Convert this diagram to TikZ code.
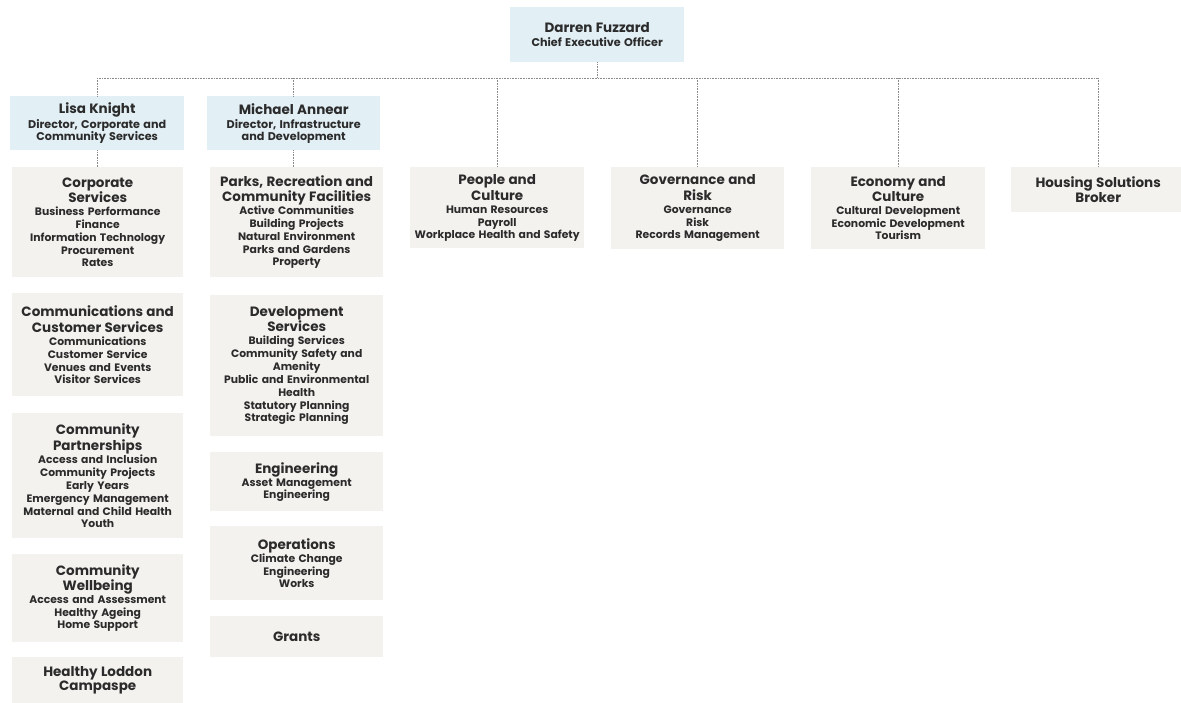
\documentclass[tikz,border=0pt]{standalone}
\usepackage{fontspec}
\setmainfont{Poppins}
\definecolor{bluebox}{HTML}{E2EFF5}
\definecolor{greybox}{HTML}{F4F2EF}
\definecolor{txt}{HTML}{2B2B2B}
\definecolor{lin}{HTML}{8A8A8A}
\newcommand\hf{\fontsize{13.5}{15.5}\selectfont\bfseries}
\newcommand\itf{\fontsize{10.8}{13}\selectfont\bfseries}
\newcommand\df{\fontsize{11.2}{12.3}\selectfont\bfseries}
\begin{document}
\begin{tikzpicture}[x=1pt,y=-1pt,
  box/.style={anchor=north west, inner xsep=1pt, inner ysep=0pt, align=center, text=txt},
  unit/.style={box, fill=greybox},
  lead/.style={box, fill=bluebox},
  conn/.style={draw=lin, line width=0.6pt, densely dotted}]
\useasboundingbox (0,0) rectangle (1181,702);

% CEO and directors
\node[lead, text width=172, minimum height=55] (ceo) at (510,7)
  {{\hf Darren Fuzzard\par}\vspace{2.5pt}{\df Chief Executive Officer}};
\node[lead, text width=172, minimum height=54] (lisa) at (10,96)
  {{\hf Lisa Knight\par}\vspace{1.5pt}{\df Director, Corporate and\\Community Services}};
\node[lead, text width=171, minimum height=54] (michael) at (207,96)
  {{\hf Michael Annear\par}\vspace{1.5pt}{\df Director, Infrastructure\\and Development}};

% column 1
\node[unit, text width=169, minimum height=110] (cs) at (12,167)
  {{\hf Corporate\\Services\par}{\itf Business Performance\\Finance\\Information Technology\\Procurement\\Rates}};
\node[unit, text width=169, minimum height=103] (ccs) at (12,293)
  {{\hf Communications and\\Customer Services\par}{\itf Communications\\Customer Service\\Venues and Events\\Visitor Services}};
\node[unit, text width=169, minimum height=125] (cp) at (12,413)
  {{\hf Community\\Partnerships\par}{\itf Access and Inclusion\\Community Projects\\Early Years\\Emergency Management\\Maternal and Child Health\\Youth}};
\node[unit, text width=169, minimum height=88] (cw) at (12,554)
  {{\hf Community\\Wellbeing\par}{\itf Access and Assessment\\Healthy Ageing\\Home Support}};
\node[unit, text width=169, minimum height=46] (hlc) at (12,657)
  {{\hf Healthy Loddon\\Campaspe}};

% column 2
\node[unit, text width=171, minimum height=110] (prcf) at (210,167)
  {{\hf Parks, Recreation and\\Community Facilities\par}{\itf Active Communities\\Building Projects\\Natural Environment\\Parks and Gardens\\Property}};
\node[unit, text width=171, minimum height=141] (ds) at (210,295)
  {{\hf Development\\Services\par}{\itf Building Services\\Community Safety and\\Amenity\\Public and Environmental\\Health\\Statutory Planning\\Strategic Planning}};
\node[unit, text width=171, minimum height=59] (eng) at (210,452)
  {{\hf Engineering\par}{\itf Asset Management\\Engineering}};
\node[unit, text width=171, minimum height=74] (ops) at (210,526)
  {{\hf Operations\par}{\itf Climate Change\\Engineering\\Works}};
\node[unit, text width=171, minimum height=41] (grants) at (210,616)
  {{\hf Grants}};

% top row
\node[unit, text width=172, minimum height=81] (pc) at (410,167)
  {{\hf People and\\Culture\par}{\itf Human Resources\\Payroll\\Workplace Health and Safety}};
\node[unit, text width=171, minimum height=82] (gr) at (611,167)
  {{\hf Governance and\\Risk\par}{\itf Governance\\Risk\\Records Management}};
\node[unit, text width=172, minimum height=82] (ec) at (811,167)
  {{\hf Economy and\\Culture\par}{\itf Cultural Development\\Economic Development\\Tourism}};
\node[unit, text width=172, minimum height=45] (hsb) at (1011,167)
  {{\hf Housing Solutions\\Broker}};

% connectors
\coordinate (bus) at (598,78);
\draw[conn] (ceo.south) -- (ceo.south |- bus);
\draw[conn] (lisa.north |- bus) -- (hsb.north |- bus);
\foreach \n in {lisa,michael,pc,gr,ec,hsb}
  \draw[conn] (\n.north |- bus) -- (\n.north);
\draw[conn] (lisa.south) -- (lisa.south |- cs.north);
\draw[conn] (michael.south) -- (michael.south |- prcf.north);
\end{tikzpicture}
\end{document}
